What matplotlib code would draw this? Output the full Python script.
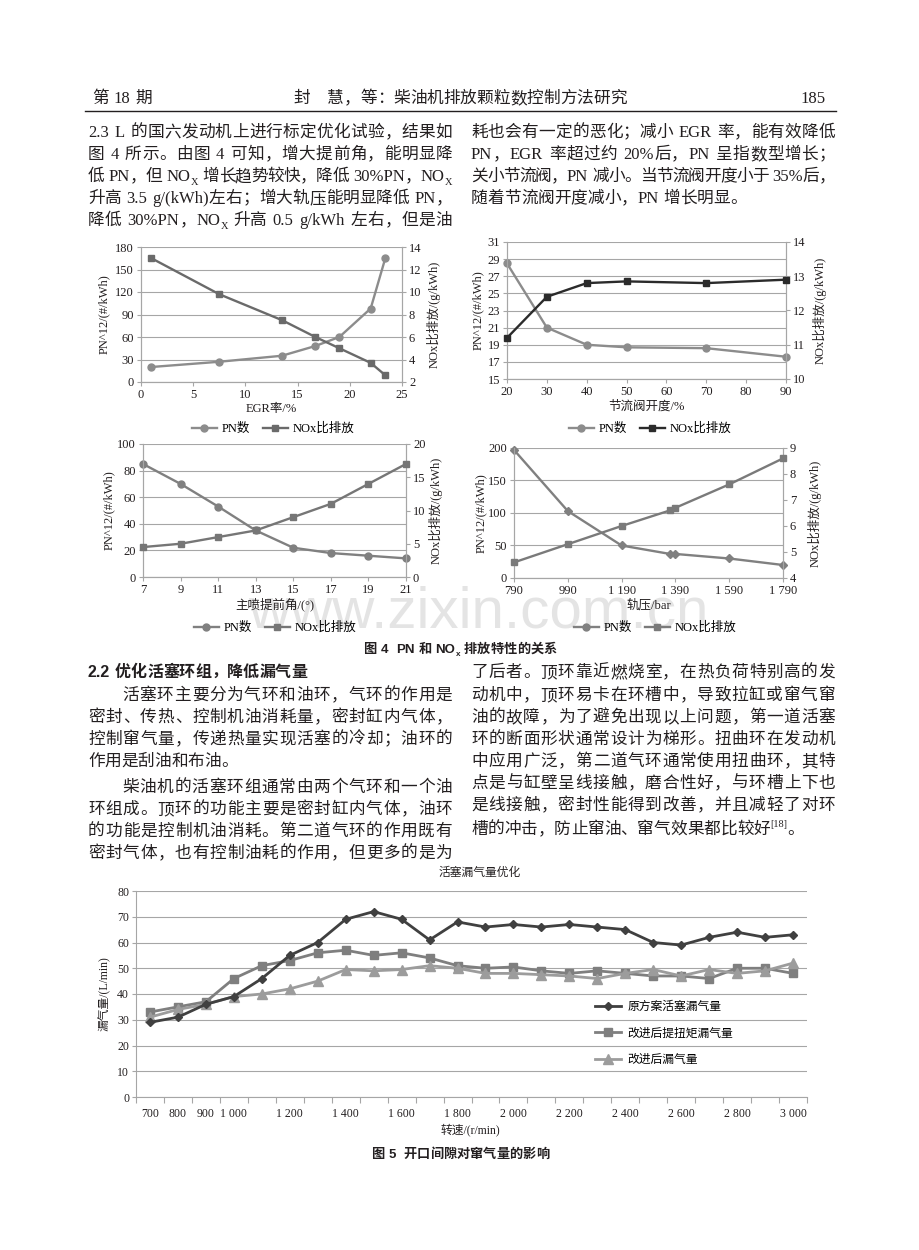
import re
import matplotlib.pyplot as plt
from matplotlib.lines import Line2D

W, H = 920, 1250
SERIF = ['Liberation Serif', 'Noto Sans CJK SC']
SANS = ['Liberation Sans', 'Noto Sans CJK SC']
INK = '#231f20'
GRID = '#a6a6a6'

# ---- figure 4 data ----
egr = [1, 7.5, 13.5, 16.7, 19, 22, 23.4]
egr_pn = [20, 27, 35, 48, 60, 98, 165]
egr_nox = [13, 9.8, 7.5, 6, 5, 3.7, 2.6]

throttle = [20, 30, 40, 50, 70, 90]
throttle_pn = [28.5, 21, 19, 18.7, 18.6, 17.6]
throttle_nox = [11.2, 12.4, 12.8, 12.85, 12.8, 12.9]

advance = [7, 9, 11, 13, 15, 17, 19, 21]
advance_pn = [85, 70, 53, 35, 22, 18, 16, 14]
advance_nox = [4.5, 5, 6, 7, 9, 11, 14, 17]

rail = [790, 990, 1190, 1370, 1390, 1590, 1790]
rail_pn = [197, 103, 50, 37, 37, 30, 20]
rail_nox = [4.6, 5.3, 6.0, 6.6, 6.7, 7.6, 8.6]
rail_ticks = [790, 990, 1190, 1390, 1590, 1790]
rail_labels = ['790', '990', '1 190', '1 390', '1 590', '1 790']

# ---- figure 5 data ----
speed = [700, 800, 900, 1000, 1100, 1200, 1300, 1400, 1500, 1600, 1700, 1800,
         1900, 2000, 2100, 2200, 2300, 2400, 2500, 2600, 2700, 2800, 2900, 3000]
blow_orig = [29, 31, 36, 39, 46, 55, 60, 69, 72, 69, 61, 68,
             66, 67, 66, 67, 66, 65, 60, 59, 62, 64, 62, 63]
blow_torque = [33, 35, 37, 46, 51, 53, 56, 57, 55, 56, 54, 51,
               50, 50.5, 49, 48, 49, 48, 47, 47, 46, 50, 50, 48]
blow_new = [31, 34, 36, 39, 40, 42, 45, 49.5, 49, 49.5, 51, 50,
            48, 48, 47.5, 47, 46, 48, 49.5, 47, 49.5, 48, 49, 52]
speed_ticks = [700, 800, 900, 1000, 1200, 1400, 1600, 1800, 2000, 2200,
               2400, 2600, 2800, 3000]
speed_labels = ['700', '800', '900', '1 000', '1 200', '1 400', '1 600', '1 800',
                '2 000', '2 200', '2 400', '2 600', '2 800', '3 000']
blow_names = ['原方案活塞漏气量', '改进后提扭矩漏气量', '改进后漏气量']

# ---- page text: (y centre, text, justified) ----
top_left = [
    (131, '2.3 L 的国六发动机上进行标定优化试验，结果如', True),
    (153, '图 4 所示。由图 4 可知，增大提前角，能明显降', True),
    (175, '低 PN，但 NO_{X} 增长趋势较快，降低 30%PN，NO_{X}', True),
    (197, '升高 3.5 g/(kWh)左右；增大轨压能明显降低 PN，', True),
    (219, '降低 30%PN，NO_{X} 升高 0.5 g/kWh 左右，但是油', True),
]
top_right = [
    (131, '耗也会有一定的恶化；减小 EGR 率，能有效降低', True),
    (153, 'PN，EGR 率超过约 20%后，PN 呈指数型增长；', True),
    (175, '关小节流阀，PN 减小。当节流阀开度小于 35%后，', True),
    (197, '随着节流阀开度减小，PN 增长明显。', False),
]
low_left = [
    (694, '\u3000\u3000活塞环主要分为气环和油环，气环的作用是', True),
    (716, '密封、传热、控制机油消耗量，密封缸内气体，', True),
    (738, '控制窜气量，传递热量实现活塞的冷却；油环的', True),
    (760, '作用是刮油和布油。', False),
    (786, '\u3000\u3000柴油机的活塞环组通常由两个气环和一个油', True),
    (808, '环组成。顶环的功能主要是密封缸内气体，油环', True),
    (830, '的功能是控制机油消耗。第二道气环的作用既有', True),
    (852, '密封气体，也有控制油耗的作用，但更多的是为', True),
]
low_right = [
    (671, '了后者。顶环靠近燃烧室，在热负荷特别高的发', True),
    (694, '动机中，顶环易卡在环槽中，导致拉缸或窜气窜', True),
    (716, '油的故障，为了避免出现以上问题，第一道活塞', True),
    (738, '环的断面形状通常设计为梯形。扭曲环在发动机', True),
    (760, '中应用广泛，第二道气环通常使用扭曲环，其特', True),
    (782, '点是与缸壁呈线接触，磨合性好，与环槽上下也', True),
    (804, '是线接触，密封性能得到改善，并且减轻了对环', True),
    (828, '槽的冲击，防止窜油、窜气效果都比较好^{[18]}。', False),
]

plt.rcParams['font.family'] = SERIF

fig = plt.figure(figsize=(W / 100, H / 100), dpi=100)
renderer = fig.canvas.get_renderer()


def fx(x):
    return x / W


def fy(y):
    return 1 - y / H


_cache = {}


def measure(s, size, family, weight):
    key = (s, size, tuple(family), weight)
    if key not in _cache:
        t = fig.text(0, 0, s, fontsize=size, family=family, weight=weight)
        _cache[key] = t.get_window_extent(renderer).width
        t.remove()
    return _cache[key]


def advance_of(s, size, family, weight):
    # ink box of 中s中 minus 中中 gives the real advance, also for punctuation
    return (measure('中' + s + '中', size, family, weight)
            - measure('中中', size, family, weight))


TOK = re.compile(r'[_^]\{[^}]*\}|[A-Za-z0-9.%/()\[\]]+|\s+|.')


def put_line(x, yc, s, size=12, family=SERIF, weight='normal', width=None,
             center=False, color=INK):
    px = size * 100 / 72
    base = yc + 0.36 * px
    items = []
    for tok in TOK.findall(s):
        if len(tok) > 2 and tok[0] in '_^' and tok[1] == '{':
            txt, fs, dy, attach = tok[2:-1], size * 0.62, (0.25 * px if tok[0] == '_' else -0.4 * px), True
        else:
            txt, fs, dy, attach = tok, size, 0, False
        if txt.isspace():
            w = sum(px if c == '\u3000' else px * 0.3 for c in txt)
            items.append((None, fs, dy, w, attach))
        else:
            items.append((txt, fs, dy, advance_of(txt, fs, family, weight), attach))
    natural = sum(it[3] for it in items)
    gaps = sum(1 for it in items[1:] if not it[4])
    extra = (width - natural) / gaps if (width and gaps) else 0
    if center:
        x -= natural / 2
    for i, (txt, fs, dy, w, attach) in enumerate(items):
        if i and not attach:
            x += extra
        if txt:
            fig.text(fx(x), fy(base + dy), txt, fontsize=fs, family=family,
                     weight=weight, color=color, va='baseline', ha='left')
        x += w


# watermark behind the charts
fig.text(fx(478), fy(627), 'www.zixin.com.cn', fontsize=42, family='Liberation Sans',
         color='#e4e4e4', ha='center', va='baseline', zorder=-5)

# header
put_line(92, 97, '第 18 期', size=12)
put_line(460, 97, '封\u3000慧，等：柴油机排放颗粒数控制方法研究', size=12, center=True)
fig.text(fx(826), fy(103), '185', fontsize=12, family=SERIF, color=INK,
         ha='right', va='baseline')
fig.add_artist(Line2D([fx(85), fx(836)], [fy(111), fy(111)], color=INK, lw=1.0))

col_w = 364
for yc, s, just in top_left + low_left:
    put_line(88, yc, s, width=col_w if just else None)
for yc, s, just in top_right + low_right:
    put_line(471, yc, s, width=col_w if just else None)

put_line(88, 671, '2.2 优化活塞环组，降低漏气量', size=11.5, family=SANS, weight='bold')
put_line(460, 648, '图 4\u2002 PN 和 NO_{x} 排放特性的关系', size=9.5, family=SANS,
         weight='bold', center=True)
put_line(460, 1153, '图 5\u2002 开口间隙对窜气量的影响', size=9.5, family=SANS,
         weight='bold', center=True)


def style_axis(ax):
    ax.patch.set_visible(False)
    for side in ['left', 'right', 'bottom']:
        ax.spines[side].set_color(GRID)
    ax.spines['top'].set_visible(False)
    ax.tick_params(colors=GRID, labelcolor=INK, labelsize=9, length=3, width=0.8, pad=2)


def small_chart(box, x, pn, nox, xlim, xticks, ylim, yticks, y2lim, y2ticks,
                pn_color, nox_color, xlabel, leg_xy, ylab_x, y2lab_x,
                xticklabels=None, pn_marker='o'):
    x0, y0, x1, y1 = box
    ax = fig.add_axes((fx(x0), fy(y1), (x1 - x0) / W, (y1 - y0) / H))
    ax2 = ax.twinx()
    style_axis(ax)
    style_axis(ax2)
    ax.yaxis.grid(True, color=GRID, lw=0.8)
    ax.set_axisbelow(True)
    ax.plot(x, pn, color=pn_color, marker=pn_marker, ms=5 if pn_marker == 'o' else 4.5,
            lw=1.7, clip_on=False, zorder=3)
    ax2.plot(x, nox, color=nox_color, marker='s', ms=5, lw=1.7, clip_on=False, zorder=3)
    ax.set_xlim(xlim)
    ax.set_xticks(xticks)
    if xticklabels:
        ax.set_xticklabels(xticklabels)
    ax.set_ylim(ylim)
    ax.set_yticks(yticks)
    ax2.set_ylim(y2lim)
    ax2.set_yticks(y2ticks)
    yc = (y0 + y1) / 2
    fig.text(fx(ylab_x), fy(yc), 'PN^12/(#/kWh)', rotation=90, fontsize=9,
             ha='center', va='center', color=INK)
    fig.text(fx(y2lab_x), fy(yc), 'NOx比排放/(g/kWh)', rotation=90, fontsize=9,
             ha='center', va='center', color=INK)
    fig.text(fx((x0 + x1) / 2), fy(y1 + 27), xlabel, fontsize=9, ha='center',
             va='center', color=INK)
    handles = [Line2D([], [], color=pn_color, marker='o', ms=5, lw=1.7),
               Line2D([], [], color=nox_color, marker='s', ms=5, lw=1.7)]
    fig.legend(handles, ['PN数', 'NOx比排放'], loc='center', ncol=2, frameon=False,
               bbox_to_anchor=(fx(leg_xy[0]), fy(leg_xy[1])), fontsize=9,
               handlelength=2.0, handletextpad=0.4, columnspacing=1.0)


small_chart((141, 247, 402, 382), egr, egr_pn, egr_nox, (0, 25), range(0, 26, 5),
            (0, 180), range(0, 181, 30), (2, 14), range(2, 15, 2),
            '#8c8c8c', '#6a6a6a', 'EGR率/%', (273, 429), 104, 434)
small_chart((507, 242, 786, 379), throttle, throttle_pn, throttle_nox, (20, 90),
            range(20, 91, 10), (15, 31), range(15, 32, 2), (10, 14), range(10, 15),
            '#8c8c8c', '#2b2b2b', '节流阀开度/%', (650, 429), 478, 820)
small_chart((143, 444, 406, 577), advance, advance_pn, advance_nox, (7, 21),
            range(7, 22, 2), (0, 100), range(0, 101, 20), (0, 20), range(0, 21, 5),
            '#808080', '#767676', '主喷提前角/(°)', (275, 628), 109, 436)
small_chart((514, 448, 783, 578), rail, rail_pn, rail_nox, (790, 1790), rail_ticks,
            (0, 200), range(0, 201, 50), (4, 9), range(4, 10), '#808080', '#7a7a7a',
            '轨压/bar', (655, 628), 481, 815, xticklabels=rail_labels, pn_marker='D')

# ---- figure 5 ----
ax = fig.add_axes((fx(136), fy(1097), 671 / W, 206 / H))
style_axis(ax)
ax.spines['right'].set_visible(False)
ax.yaxis.grid(True, color=GRID, lw=0.8)
ax.set_axisbelow(True)
ax.plot(speed, blow_orig, color='#404040', marker='D', ms=4, lw=2, label=blow_names[0],
        clip_on=False, zorder=5)
ax.plot(speed, blow_torque, color='#7f7f7f', marker='s', ms=6, lw=2, label=blow_names[1],
        clip_on=False, zorder=3)
ax.plot(speed, blow_new, color='#9c9c9c', marker='^', ms=6.5, lw=2, label=blow_names[2],
        clip_on=False, zorder=4)
ax.set_xlim(650, 3050)
ax.set_ylim(0, 80)
ax.set_yticks(range(0, 81, 10))
ax.set_xticks(speed_ticks)
ax.set_xticklabels(speed_labels)
ax.set_xticks([650 + 100 * k for k in range(25)], minor=True)
ax.tick_params(axis='x', which='major', length=0, labelsize=8.5, pad=8)
ax.tick_params(axis='x', which='minor', length=4, colors=GRID, width=0.8)
ax.tick_params(axis='y', labelsize=8.5)
ax.legend(loc='upper left', bbox_to_anchor=(fx(590), fy(996)),
          bbox_transform=fig.transFigure, frameon=False, borderaxespad=0,
          fontsize=8.5, labelspacing=1.25, handlelength=2.2, handletextpad=0.6)
fig.text(fx(480), fy(873), '活塞漏气量优化', fontsize=8.5, ha='center', va='center',
         color=INK)
fig.text(fx(104), fy(994), '漏气量/(L/min)', rotation=90, fontsize=8.5, ha='center',
         va='center', color=INK)
fig.text(fx(470), fy(1130), '转速/(r/min)', fontsize=8.5, ha='center', va='center',
         color=INK)

fig.savefig('out.png', dpi=100)
